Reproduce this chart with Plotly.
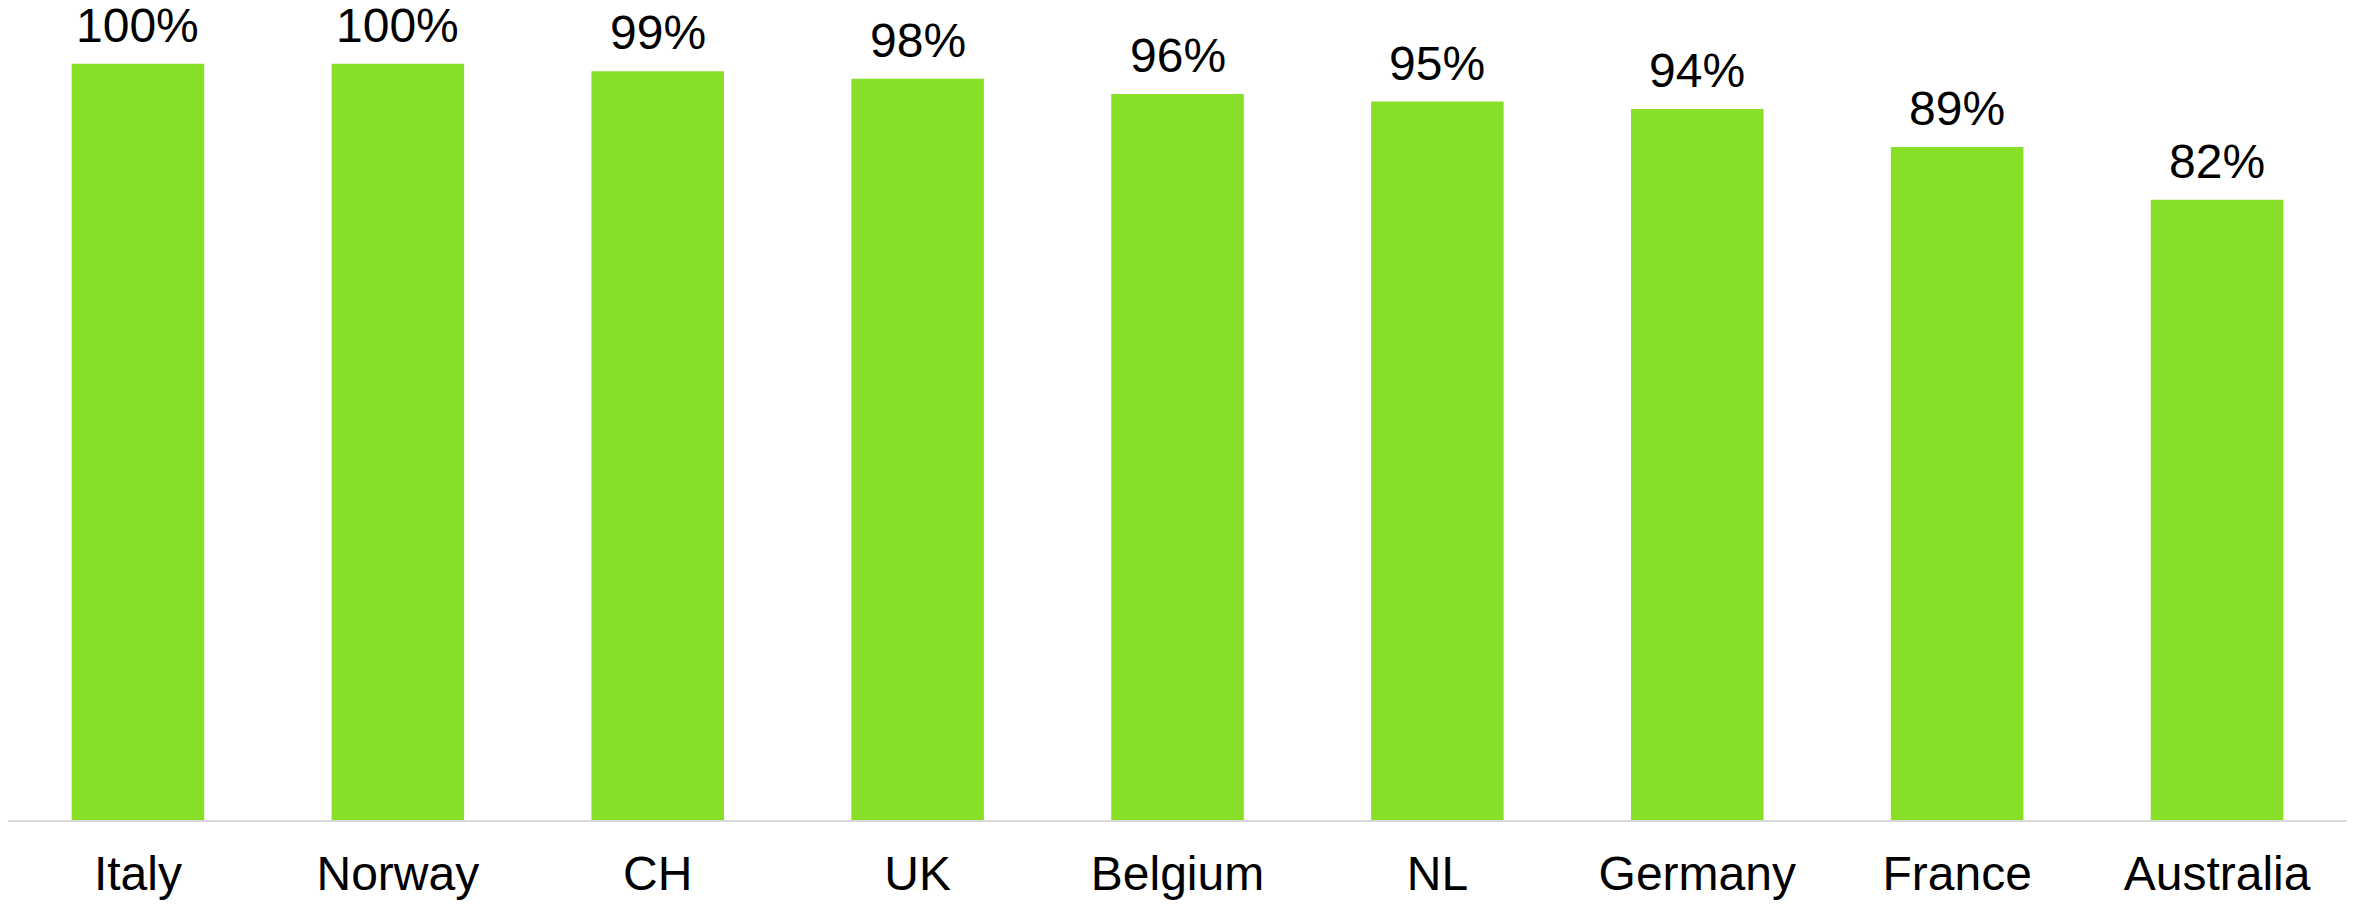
import plotly.graph_objects as go

countries = ["Italy", "Norway", "CH", "UK", "Belgium", "NL", "Germany", "France", "Australia"]
values = [100, 100, 99, 98, 96, 95, 94, 89, 82]
labels = [f"{v}%" for v in values]

fig = go.Figure(go.Bar(
    x=countries, y=values,
    marker=dict(color="#88DF28", line=dict(width=0)),
    cliponaxis=False,
))

for c, v, t in zip(countries, values, labels):
    fig.add_annotation(x=c, y=v, text=t, showarrow=False, yanchor="bottom",
                       yshift=10, font=dict(family="Liberation Sans, Arial", size=48, color="#000000"))

fig.update_layout(
    width=2356, height=908,
    margin=dict(l=8, r=9, t=10, b=85),
    paper_bgcolor="white", plot_bgcolor="white",
    bargap=0.49, showlegend=False,
    font=dict(family="Liberation Sans, Arial", color="#000000"),
)
fig.update_xaxes(showline=True, linecolor="#D9D9D9", linewidth=2, ticks="",
                 tickfont=dict(size=48, color="#000000"), showgrid=False,
                 ticklabelstandoff=10)
fig.update_yaxes(range=[0, 107.1], visible=False, showgrid=False)

fig.write_html("out.html")
